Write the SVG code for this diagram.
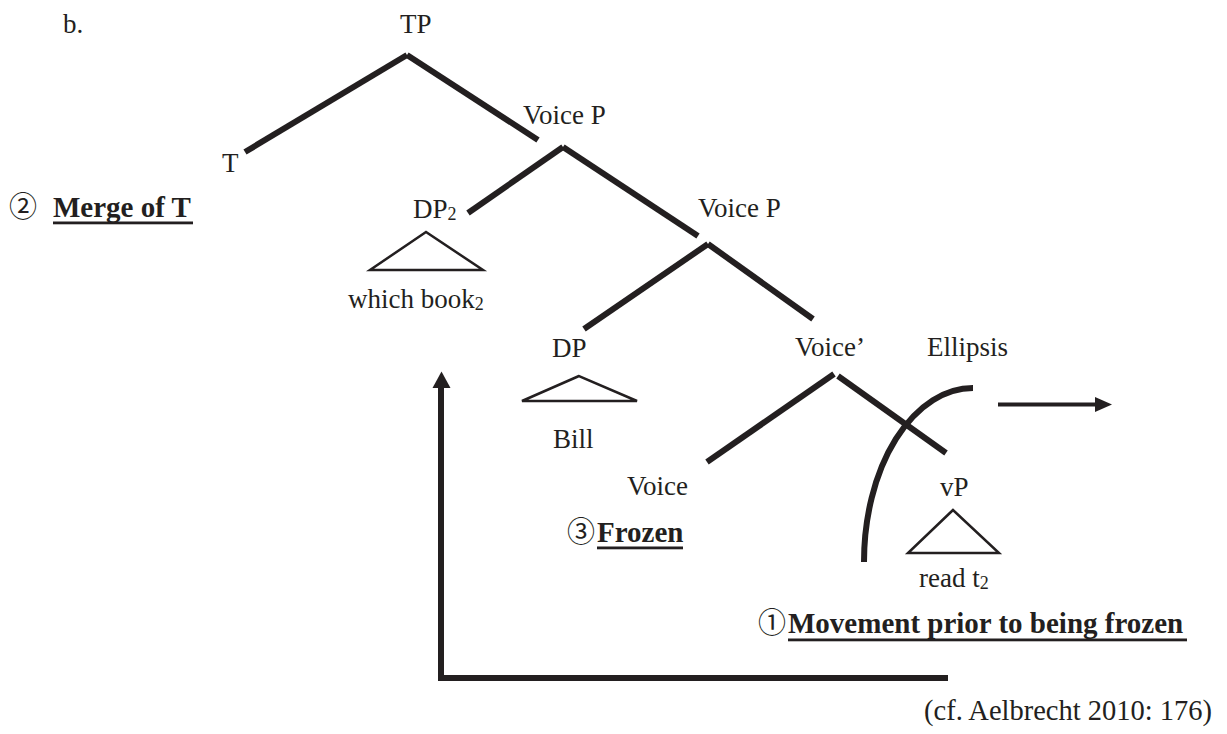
<svg xmlns="http://www.w3.org/2000/svg" width="1227" height="734" viewBox="0 0 1227 734">
  <style>
    text { font-family: "Liberation Serif", "Noto Sans CJK JP", serif; font-size: 27px; fill: #231f20; }
    .b { font-weight: bold; font-size: 29px; }
    .circ { font-family: "Noto Sans CJK JP", "DejaVu Sans", sans-serif; font-size: 28px; font-weight: normal; }
    .sub { font-size: 18px; }
    .edge { stroke: #231f20; stroke-width: 6; stroke-linecap: butt; fill: none; }
    .tri { stroke: #231f20; stroke-width: 2.5; fill: #fff; stroke-linejoin: miter; }
    .ul { fill: #231f20; }
    .arrow { fill: #231f20; }
  </style>

  <rect width="1227" height="734" fill="#fff"/>

  <text x="63" y="33">b.</text>

  <!-- tree branches -->
  <g id="connectors">
    <line class="edge" x1="407" y1="55" x2="245" y2="152"/>
    <line class="edge" x1="407" y1="55" x2="538" y2="140"/>
    <line class="edge" x1="563" y1="147" x2="468" y2="213"/>
    <line class="edge" x1="563" y1="147" x2="698" y2="236"/>
    <line class="edge" x1="708" y1="244" x2="584" y2="329"/>
    <line class="edge" x1="708" y1="244" x2="813" y2="319"/>
    <line class="edge" x1="834" y1="374" x2="707" y2="462"/>
    <line class="edge" x1="838" y1="376" x2="946" y2="453"/>

    <!-- ellipsis boundary -->
    <path class="edge" d="M973,388 A109,174 0 0 0 864,562" stroke-width="5.5"/>
    <!-- arrow to the right of the boundary -->
    <line x1="998" y1="404.5" x2="1097" y2="404.5" stroke="#231f20" stroke-width="4"/>
    <polygon class="arrow" points="1095,397 1112,404.5 1095,412"/>

    <!-- movement path -->
    <path class="edge" d="M948,678 H441 V386" stroke-linejoin="miter"/>
    <polygon class="arrow" points="432.5,388 441.5,371.5 450.5,388"/>
  </g>

  <g id="node-tp"><text x="400" y="33">TP</text></g>
  <g id="node-t"><text x="222" y="172">T</text></g>
  <g id="node-voicep1"><text x="523" y="124">Voice P</text></g>

  <g id="label-merge">
    <text x="9" y="217"><tspan class="circ">②</tspan></text>
    <text class="b" x="53" y="217">Merge of T</text>
    <rect class="ul" x="53" y="221.5" width="140" height="2.8"/>
  </g>

  <g id="node-dp2">
    <text x="413" y="218">DP<tspan class="sub" dy="2">2</tspan></text>
    <polygon class="tri" points="426,232 370,270 483,270"/>
    <text x="348" y="308">which book<tspan class="sub" dy="2">2</tspan></text>
  </g>

  <g id="node-voicep2"><text x="698" y="217">Voice P</text></g>

  <g id="node-dp">
    <text x="552" y="357">DP</text>
    <polygon class="tri" points="579,376 522,401 637,401"/>
    <text x="553" y="448">Bill</text>
  </g>

  <g id="node-voicebar"><text x="795" y="356">Voice’</text></g>
  <g id="label-ellipsis"><text x="927" y="356">Ellipsis</text></g>

  <g id="node-voice"><text x="627" y="495">Voice</text></g>

  <g id="label-frozen">
    <text x="567" y="542"><tspan class="circ">③</tspan></text>
    <text class="b" x="597" y="542">Frozen</text>
    <rect class="ul" x="597" y="546.5" width="86" height="2.8"/>
  </g>

  <g id="node-vp">
    <text x="940" y="496">vP</text>
    <polygon class="tri" points="953,510 908,553 999,553"/>
    <text x="919" y="587">read t<tspan class="sub" dy="2">2</tspan></text>
  </g>

  <g id="label-movement">
    <text x="758" y="633"><tspan class="circ">①</tspan></text>
    <text class="b" x="788" y="633">Movement prior to being frozen</text>
    <rect class="ul" x="788" y="638.5" width="399" height="2.8"/>
  </g>

  <text x="924" y="720" style="font-size:28.5px">(cf. Aelbrecht 2010: 176)</text>
</svg>
